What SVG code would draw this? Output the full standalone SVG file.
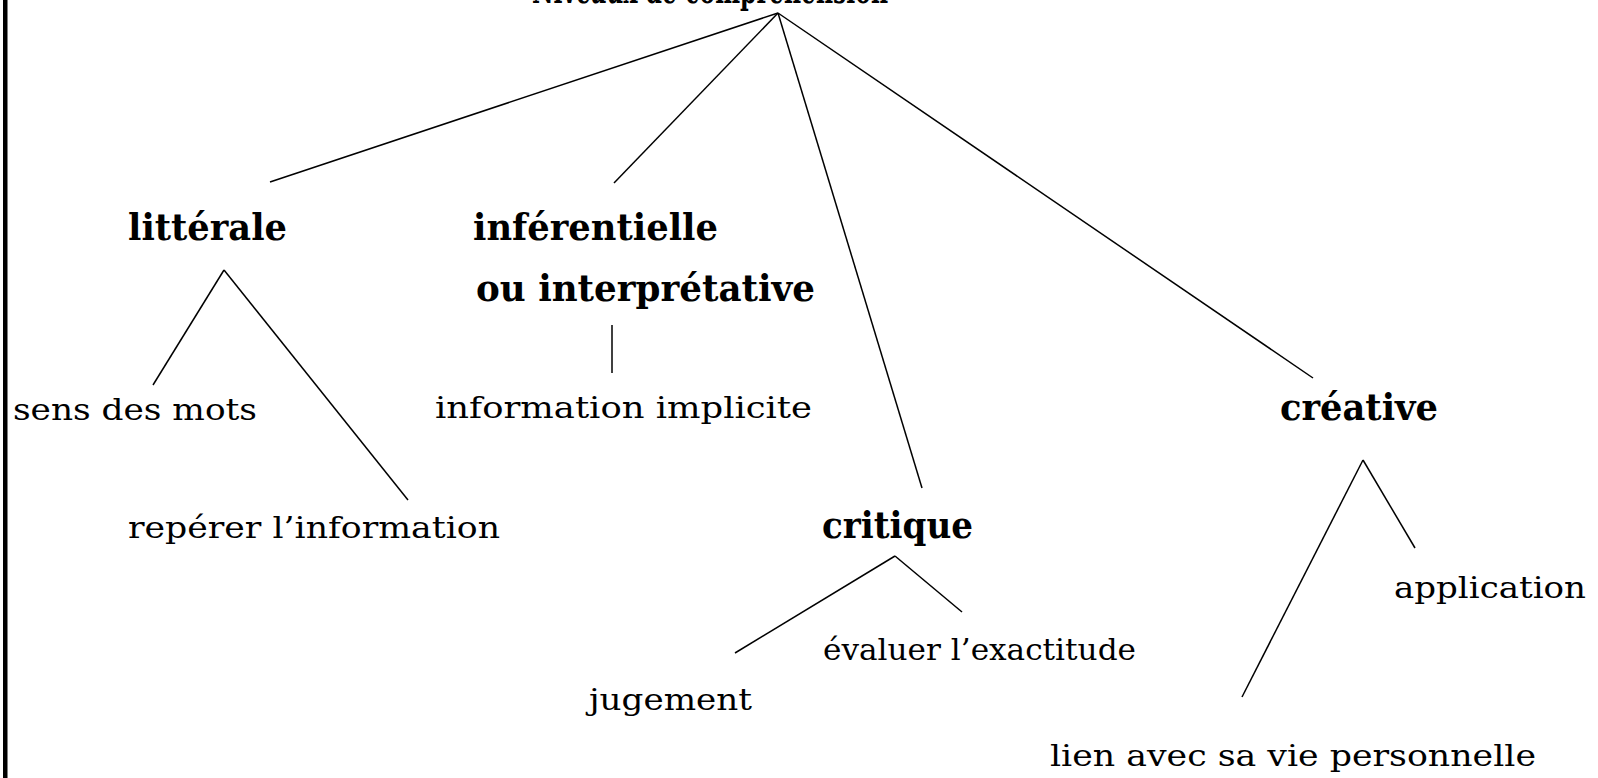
<svg xmlns="http://www.w3.org/2000/svg" width="1598" height="778" viewBox="0 0 1598 778">
<style>
.r{font-family:"DejaVu Serif","Liberation Serif",serif;font-size:29px;fill:#000}
.b{font-family:"DejaVu Serif","Liberation Serif",serif;font-size:37px;font-weight:bold;fill:#000}
.c line{stroke:#000;stroke-width:1.5}
</style>
<rect width="1598" height="778" fill="#fff"/>
<rect x="3" y="0" width="4.5" height="778" fill="#000"/>
<g id="title"><text class="b" x="532" y="3" textLength="356" lengthAdjust="spacingAndGlyphs">Niveaux de compréhension</text></g>
<g id="connectors" class="c">
<line x1="778" y1="13" x2="270" y2="182"/>
<line x1="778" y1="13" x2="614" y2="183"/>
<line x1="778" y1="13" x2="922" y2="488"/>
<line x1="778" y1="13" x2="1313" y2="378"/>
<line x1="224" y1="270" x2="153" y2="385"/>
<line x1="224" y1="270" x2="408" y2="500"/>
<line x1="612" y1="325" x2="612" y2="373"/>
<line x1="895" y1="556" x2="735" y2="653"/>
<line x1="895" y1="556" x2="962" y2="612"/>
<line x1="1363" y1="460" x2="1242" y2="697"/>
<line x1="1363" y1="460" x2="1415" y2="548"/>
</g>
<g id="litterale"><text class="b" x="128" y="240" textLength="159" lengthAdjust="spacingAndGlyphs">littérale</text></g>
<g id="inferentielle"><text class="b" x="473" y="240" textLength="245" lengthAdjust="spacingAndGlyphs">inférentielle</text><text class="b" x="476" y="301" textLength="339" lengthAdjust="spacingAndGlyphs">ou interprétative</text></g>
<g id="creative"><text class="b" x="1280" y="420" textLength="158" lengthAdjust="spacingAndGlyphs">créative</text></g>
<g id="critique"><text class="b" x="822" y="538" textLength="151" lengthAdjust="spacingAndGlyphs">critique</text></g>
<g id="sens"><text class="r" x="13" y="420" textLength="244" lengthAdjust="spacingAndGlyphs">sens des mots</text></g>
<g id="implicite"><text class="r" x="435" y="418" textLength="377" lengthAdjust="spacingAndGlyphs">information implicite</text></g>
<g id="reperer"><text class="r" x="128" y="538" textLength="372" lengthAdjust="spacingAndGlyphs">repérer l’information</text></g>
<g id="application"><text class="r" x="1394" y="598" textLength="192" lengthAdjust="spacingAndGlyphs">application</text></g>
<g id="evaluer"><text class="r" x="823" y="660" textLength="313" lengthAdjust="spacingAndGlyphs">évaluer l’exactitude</text></g>
<g id="jugement"><text class="r" x="589" y="710" textLength="163" lengthAdjust="spacingAndGlyphs">jugement</text></g>
<g id="lien"><text class="r" x="1050" y="766" textLength="486" lengthAdjust="spacingAndGlyphs">lien avec sa vie personnelle</text></g>
</svg>
